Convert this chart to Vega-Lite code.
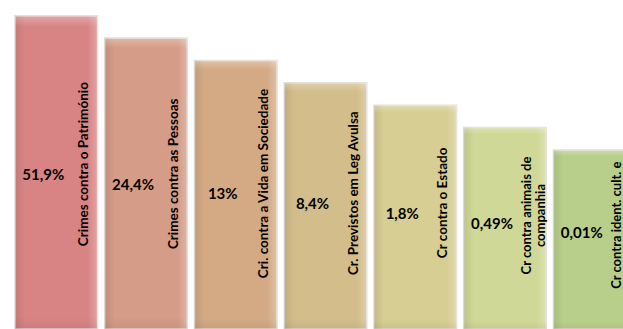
{
  "$schema": "https://vega.github.io/schema/vega-lite/v6.json",
  "width": 623,
  "height": 329,
  "padding": 0,
  "autosize": {"type": "none"},
  "background": "white",
  "config": {
    "view": {"stroke": null},
    "axis": {"disable": true},
    "locale": {"number": {"decimal": ",", "thousands": ".", "grouping": [3], "currency": ["", " €"]}}
  },
  "data": {
    "values": [
      {"categoria": "Crimes contra o Património", "ordem": 1, "valor": 0.519},
      {"categoria": "Crimes contra as Pessoas", "ordem": 2, "valor": 0.244},
      {"categoria": "Cri. contra a Vida em Sociedade", "ordem": 3, "valor": 0.13},
      {"categoria": "Cr. Previstos em Leg Avulsa", "ordem": 4, "valor": 0.084},
      {"categoria": "Cr contra o Estado", "ordem": 5, "valor": 0.018},
      {"categoria": "Cr contra animais de\ncompanhia", "ordem": 6, "valor": 0.0049},
      {"categoria": "Cr contra ident. cult. e\nintegr. pessoal", "ordem": 7, "valor": 0.0001}
    ]
  },
  "encoding": {
    "x": {
      "field": "categoria",
      "type": "nominal",
      "sort": {"field": "ordem"},
      "axis": null,
      "scale": {"range": [15, 636], "paddingInner": 0.08, "paddingOuter": 0}
    }
  },
  "layer": [
    {
      "encoding": {
        "y": {"field": "ordem", "type": "quantitative", "axis": null,
              "scale": {"domain": [0.3, 15], "reverse": true, "zero": false, "nice": false}},
        "y2": {"datum": 15}
      },
      "layer": [
        {
          "mark": {"type": "bar", "stroke": "#e3ded9", "strokeWidth": 1.5},
          "encoding": {
            "color": {
              "field": "categoria", "type": "nominal", "legend": null,
              "scale": {
                "domain": ["Crimes contra o Património", "Crimes contra as Pessoas", "Cri. contra a Vida em Sociedade", "Cr. Previstos em Leg Avulsa", "Cr contra o Estado", "Cr contra animais de\ncompanhia", "Cr contra ident. cult. e\nintegr. pessoal"],
                "range": ["#d98484", "#d59c87", "#d4aa85", "#d3bd8b", "#d6ce92", "#cfd896", "#b7cf8b"]
              }
            }
          }
        },
        {
          "mark": {
            "type": "bar",
            "color": {
              "gradient": "linear", "x1": 0, "y1": 0, "x2": 1, "y2": 0,
              "stops": [
                {"offset": 0, "color": "rgba(0,0,0,0.09)"},
                {"offset": 0.12, "color": "rgba(0,0,0,0.0)"},
                {"offset": 0.88, "color": "rgba(255,255,255,0.0)"},
                {"offset": 1, "color": "rgba(255,255,255,0.25)"}
              ]
            }
          }
        },
        {
          "mark": {
            "type": "bar",
            "color": {
              "gradient": "linear", "x1": 0, "y1": 0, "x2": 0, "y2": 1,
              "stops": [
                {"offset": 0, "color": "rgba(255,255,255,0.28)"},
                {"offset": 0.035, "color": "rgba(255,255,255,0.0)"},
                {"offset": 0.96, "color": "rgba(0,0,0,0.0)"},
                {"offset": 1, "color": "rgba(0,0,0,0.06)"}
              ]
            }
          }
        }
      ]
    },
    {
      "encoding": {
        "y": {"field": "ordem", "type": "quantitative", "axis": null,
              "scale": {"domain": [-17.1, 16.9], "reverse": true, "zero": false, "nice": false}}
      },
      "layer": [
        {
          "mark": {"type": "text", "font": "Lato", "fontWeight": "bold", "fontSize": 15, "align": "center", "baseline": "middle", "dx": -13, "color": "black"},
          "encoding": {
            "text": {"field": "valor", "type": "quantitative", "format": ".2~%"}
          }
        },
        {
          "transform": [{"filter": {"field": "ordem", "lte": 5}}],
          "mark": {"type": "text", "font": "Lato", "fontWeight": "bold", "fontSize": 13.5, "angle": 270, "align": "center", "baseline": "middle", "dx": 11, "dy": 28, "color": "black"},
          "encoding": {
            "text": {"field": "categoria", "type": "nominal"}
          }
        },
        {
          "transform": [{"filter": {"field": "ordem", "gt": 5}}],
          "mark": {"type": "text", "font": "Lato", "fontWeight": "bold", "fontSize": 13, "lineHeight": 14, "lineBreak": "\n", "angle": 270, "align": "center", "baseline": "middle", "dx": 8, "dy": 22, "color": "black"},
          "encoding": {
            "text": {"field": "categoria", "type": "nominal"}
          }
        }
      ]
    }
  ],
  "resolve": {"scale": {"y": "independent"}}
}
